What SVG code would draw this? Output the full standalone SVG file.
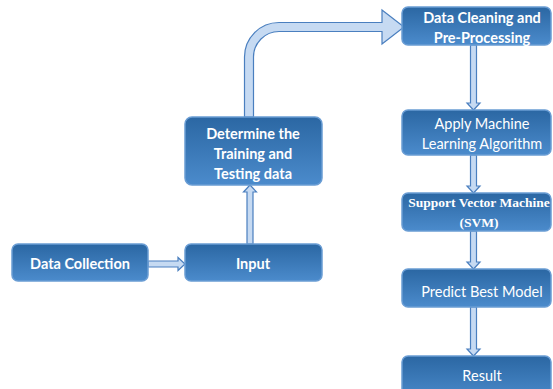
<svg xmlns="http://www.w3.org/2000/svg" width="553" height="389" viewBox="0 0 553 389">
<defs>
<linearGradient id="g" x1="0" y1="0" x2="0" y2="1">
<stop offset="0" stop-color="#2b67a3"/>
<stop offset="1" stop-color="#4b8bcc"/>
</linearGradient>
<style>
.box{fill:url(#g);stroke:#6a9dd4;stroke-width:1.5}
.t{font-family:Lato,"Open Sans","Liberation Sans",sans-serif;font-size:14.5px;fill:#fff;text-anchor:middle;dominant-baseline:central}
.b{font-weight:bold}
.s{font-family:"Liberation Serif",serif;font-weight:bold;font-size:13.5px;fill:#fff;text-anchor:middle;dominant-baseline:central}
.ar{fill:#c6daf2;stroke:#4a7fbf;stroke-width:1.2;stroke-linejoin:miter}
</style>
</defs>
<rect width="553" height="389" fill="#fff"/>
<g id="connectors">
<path class="ar" d="M148,261 H178 V257.5 L185,264 L178,270.5 V267 H148 Z"/>
<path class="ar" d="M247,244 V192 H243.5 L250,185 L256.5,192 H253 V244 Z"/>
<path class="ar" d="M244.5,117 V57 A34.5,34.5 0 0 1 279,22.5 H382 V10 L404,27 L382,44 V31.5 H279 A25.5,25.5 0 0 0 253.5,57 V117 Z"/>
<path class="ar" d="M470.5,45 V103 H467 L473.5,110 L480,103 H476.5 V45 Z"/>
<path class="ar" d="M470.5,155 V186 H467 L473.5,193 L480,186 H476.5 V155 Z"/>
<path class="ar" d="M470.5,231 V262 H467 L473.5,269 L480,262 H476.5 V231 Z"/>
<path class="ar" d="M470.5,307 V349 H467 L473.5,356 L480,349 H476.5 V307 Z"/>
</g>
<g id="data-collection">
<rect class="box" x="12" y="244" width="136" height="37" rx="6"/>
<text class="t b" x="80" y="263">Data Collection</text>
</g>
<g id="input">
<rect class="box" x="185" y="244" width="137" height="37" rx="6"/>
<text class="t b" x="253" y="263">Input</text>
</g>
<g id="determine">
<rect class="box" x="185" y="117" width="137" height="68" rx="7"/>
<text class="t b" x="253" y="133">Determine the</text>
<text class="t b" x="253" y="153">Training and</text>
<text class="t b" x="253" y="173">Testing data</text>
</g>
<g id="data-cleaning">
<rect class="box" x="402" y="7" width="149" height="38" rx="6"/>
<text class="t b" x="482" y="17">Data Cleaning and</text>
<text class="t b" x="482" y="37">Pre-Processing</text>
</g>
<g id="apply-ml">
<rect class="box" x="402" y="110" width="149" height="45" rx="6"/>
<text class="t" x="482" y="123">Apply Machine</text>
<text class="t" x="482" y="143">Learning Algorithm</text>
</g>
<g id="svm">
<rect class="box" x="402" y="193" width="149" height="38" rx="6"/>
<text class="s" x="479" y="202">Support Vector Machine</text>
<text class="s" x="479" y="222">(SVM)</text>
</g>
<g id="predict">
<rect class="box" x="402" y="269" width="149" height="38" rx="6"/>
<text class="t" x="482" y="291">Predict Best Model</text>
</g>
<g id="result">
<rect class="box" x="402" y="356" width="149" height="45" rx="6"/>
<text class="t" x="482" y="375">Result</text>
</g>
</svg>
